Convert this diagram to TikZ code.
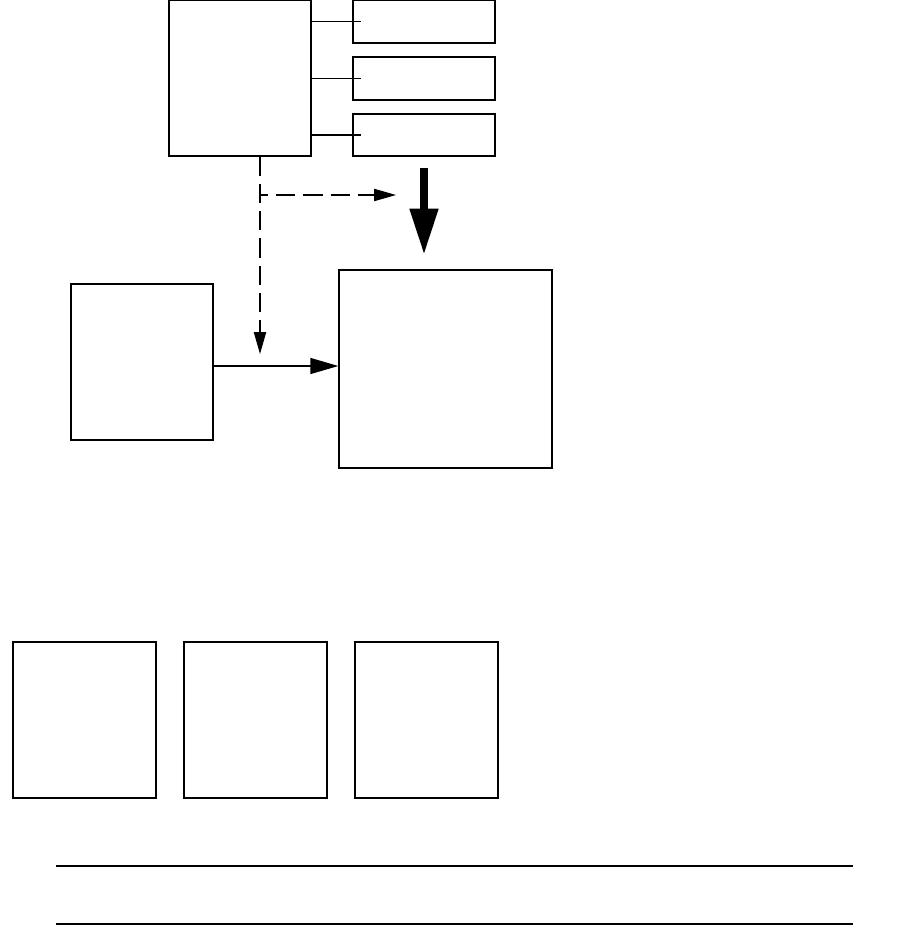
\documentclass[tikz,border=0pt]{standalone}
\usetikzlibrary{arrows.meta}
\tikzset{
    box/.style={draw, line width=0.7pt, inner sep=0pt, minimum width=2.84cm},
    ctl/.style={line width=0.6pt, dash pattern=on 11pt off 4.5pt, -{Triangle[length=12.5pt,width=7pt]}},
    flow/.style={line width=1.2pt, -{Triangle[length=16pt,width=9pt]}},
    feed/.style={line width=4pt, -{Triangle[length=26pt,width=15.5pt]}}
}
\begin{document}
    \begin{tikzpicture}[x=0.02cm, y=-0.02cm]
        \useasboundingbox (0,0) rectangle (907,930);
        \node[box, minimum height=3.12cm] (ctrl) at (240,78) {};
        \node[box, minimum height=0.86cm] (sa) at (424,21.5) {};
        \node[box, minimum height=0.86cm] (sb) at (424,78.5) {};
        \node[box, minimum height=0.84cm] (sc) at (424,135) {};
        \node[box, minimum height=3.12cm] (src) at (142,362) {};
        \node[box, minimum width=4.26cm, minimum height=3.96cm] (dst) at (445.5,369) {};
        \node[box, minimum width=2.86cm, minimum height=3.12cm] (pa) at (84.5,720) {};
        \node[box, minimum width=2.86cm, minimum height=3.12cm] (pb) at (255.5,720) {};
        \node[box, minimum width=2.86cm, minimum height=3.12cm] (pc) at (426.5,720) {};
        \foreach \s in {sa,sb,sc}
            \draw[line width=0.6pt] (ctrl.east |- \s.west) -- ([xshift=0.17cm]\s.west);
        \coordinate (dropA) at (260,354);
        \coordinate (dropB) at (396,195);
        \draw[ctl] (ctrl.south -| dropA) -- (dropA);
        \draw[ctl] (ctrl.south -| dropA) |- (dropB);
        \draw[flow] (src.east |- 0,366) -- (dst.west |- 0,366);
        \draw[feed] ([yshift=-0.22cm]sc.south) -- ([yshift=0.3cm]dst.north -| sc.south);
        \coordinate (ruleA) at (56,866);
        \coordinate (ruleB) at (853,866);
        \coordinate (ruleC) at (56,924);
        \coordinate (ruleD) at (853,924);
        \draw[line width=0.7pt] (ruleA) -- (ruleB);
        \draw[line width=0.7pt] (ruleC) -- (ruleD);
    \end{tikzpicture}
\end{document}
